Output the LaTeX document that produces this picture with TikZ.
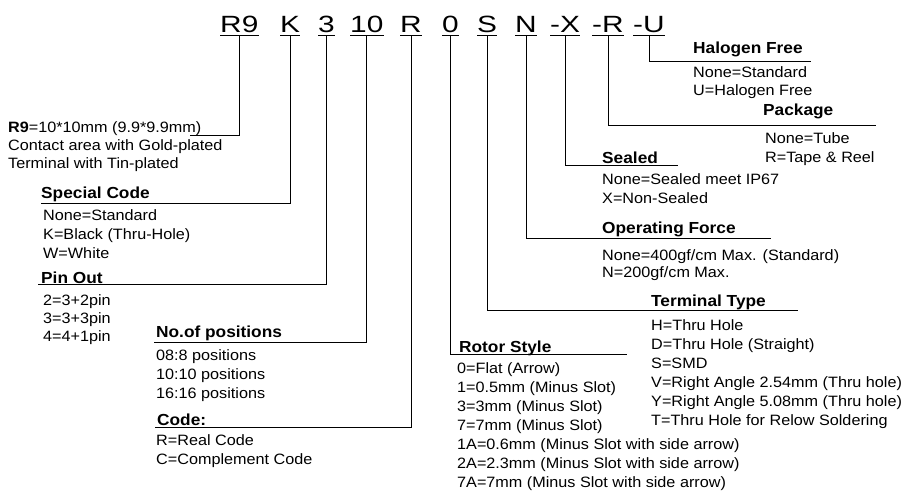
\documentclass[tikz,border=0pt]{standalone}
\usepackage{fontspec}
\setmainfont[FakeStretch=1.08]{Liberation Sans}
\newfontfamily\codefont[FakeStretch=1.27]{Liberation Sans}
\usepackage{tikz}
\usetikzlibrary{positioning}

\begin{document}
\begin{tikzpicture}[
    x=1pt, y=-1pt,
    code/.style={font=\codefont\fontsize{23.5}{26}\selectfont, inner sep=0pt, text depth=3pt, anchor=base west},
    title/.style={font=\fontsize{16}{19}\selectfont\bfseries, inner sep=0pt, anchor=base west},
    item/.style={font=\fontsize{15}{19}\selectfont, inner sep=0pt, anchor=base west, align=left},
    lead/.style={line width=0.9pt}
]
    \useasboundingbox (0,0) rectangle (910,490);

    % part number
    \node[code] (r9c) at (220,32) {R9};
    \node[code] (kc) at (280,32) {K};
    \node[code] (pinc) at (318,32) {3};
    \node[code] (posc) at (350,32) {10};
    \node[code] (codec) at (400,32) {R};
    \node[code] (rotorc) at (442,32) {0};
    \node[code] (termc) at (477,32) {S};
    \node[code] (forcec) at (515,32) {N};
    \node[code] (sealc) at (550,32) {-X};
    \node[code] (packc) at (592,32) {-R};
    \node[code] (haloc) at (633,32) {-U};
    \foreach \c in {r9c,kc,pinc,posc,codec,rotorc,termc,forcec,sealc,packc,haloc}
        \draw[lead] (\c.south west) -- (\c.south east);

    % left side (item lists sit on the baseline of their last line)
    \node[item, font=\fontsize{15}{18}\selectfont] (r9info) at (8,168.5) {\textbf{R9}=10*10mm (9.9*9.9mm)\\Contact area with Gold-plated\\Terminal with Tin-plated};
    \coordinate (r9-end) at (190,135);

    \node[title] (spec) at (41,198) {Special Code};
    \node[item] (spec-list) at (43,258.5) {None=Standard\\K=Black (Thru-Hole)\\W=White};
    \coordinate (spec-end) at (41,203);

    \node[title] (pinout) at (41,283) {Pin Out};
    \node[item, font=\fontsize{15}{18}\selectfont] (pinout-list) at (43,341.5) {2=3+2pin\\3=3+3pin\\4=4+1pin};
    \coordinate (pinout-end) at (38,284);

    \node[title] (npos) at (156,337) {No.of positions};
    \node[item] (npos-list) at (156,398.5) {08:8 positions\\10:10 positions\\16:16 positions};
    \coordinate (npos-end) at (154,342);

    \node[title] (codet) at (157,425) {Code:};
    \node[item] (codet-list) at (156,464.5) {R=Real Code\\C=Complement Code};
    \coordinate (codet-end) at (155,427);

    % right side
    \node[title] (rotor) at (459,352) {Rotor Style};
    \node[item] (rotor-list) at (457,487.5) {0=Flat (Arrow)\\1=0.5mm (Minus Slot)\\3=3mm (Minus Slot)\\7=7mm (Minus Slot)\\1A=0.6mm (Minus Slot with side arrow)\\2A=2.3mm (Minus Slot with side arrow)\\7A=7mm (Minus Slot with side arrow)};
    \coordinate (rotor-end) at (627,354);

    \node[title] (term) at (651,306) {Terminal Type};
    \node[item] (term-list) at (651,425.5) {H=Thru Hole\\D=Thru Hole (Straight)\\S=SMD\\V=Right Angle 2.54mm (Thru hole)\\Y=Right Angle 5.08mm (Thru hole)\\T=Thru Hole for Relow Soldering};
    \coordinate (term-end) at (798,310);

    \node[title] (force) at (602,233) {Operating Force};
    \node[item, font=\fontsize{15}{17}\selectfont] (force-list) at (602,277.5) {None=400gf/cm Max. (Standard)\\N=200gf/cm Max.};
    \coordinate (force-end) at (771,238);

    \node[title] (seal) at (602,163) {Sealed};
    \node[item] (seal-list) at (602,203.5) {None=Sealed meet IP67\\X=Non-Sealed};
    \coordinate (seal-end) at (678,165);

    \node[title] (pack) at (763,115) {Package};
    \node[item] (pack-list) at (765,162.5) {None=Tube\\R=Tape \& Reel};
    \coordinate (pack-end) at (876,125);

    \node[title] (halo) at (693,53) {Halogen Free};
    \node[item, font=\fontsize{15}{18}\selectfont] (halo-list) at (693,95.5) {None=Standard\\U=Halogen Free};
    \coordinate (halo-end) at (811,61);

    % leaders
    \draw[lead] (r9c.south) |- (r9-end);
    \draw[lead] (kc.south) |- (spec-end);
    \draw[lead] (pinc.south) |- (pinout-end);
    \draw[lead] (posc.south) |- (npos-end);
    \draw[lead] (codec.south) |- (codet-end);
    \draw[lead] (rotorc.south) |- (rotor-end);
    \draw[lead] (termc.south) |- (term-end);
    \draw[lead] (forcec.south) |- (force-end);
    \draw[lead] (sealc.south) |- (seal-end);
    \draw[lead] (packc.south) |- (pack-end);
    \draw[lead] (haloc.south) |- (halo-end);
\end{tikzpicture}
\end{document}
